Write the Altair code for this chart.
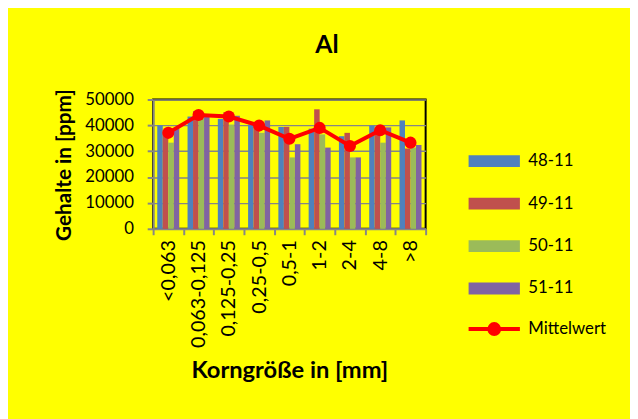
import altair as alt
import pandas as pd

categories = ["<0,063", "0,063-0,125", "0,125-0,25", "0,25-0,5", "0,5-1", "1-2", "2-4", "4-8", ">8"]
series_names = ["48-11", "49-11", "50-11", "51-11"]
s48 = [40000, 43400, 42500, 40300, 39400, 38700, 35800, 39900, 41900]
s49 = [36500, 45500, 45000, 39500, 39400, 46200, 37100, 39000, 31000]
s50 = [33300, 42800, 40300, 37100, 27600, 36500, 27600, 33300, 31400]
s51 = [39000, 43400, 43700, 41900, 32700, 31400, 27600, 39200, 32400]
mittel = [37100, 44000, 43400, 39900, 34800, 39000, 32000, 38100, 33300]
mean_name = "Mittelwert"
bar_colors = ["#4F81BD", "#C0504D", "#9BBB59", "#8064A2"]
y_ticks = [0, 10000, 20000, 30000, 40000, 50000]

rows = []
for name, vals in zip(series_names, [s48, s49, s50, s51]):
    for c, v in zip(categories, vals):
        rows.append({"cat": c, "series": name, "value": v})
bars_df = pd.DataFrame(rows)
mean_df = pd.DataFrame({"cat": categories, "value": mittel, "name": [mean_name] * len(categories)})

FONT = "Lato"
GRAY = "#868686"

x_axis = alt.Axis(
    tickBand="extent", labelAngle=-90, labelFontSize=20, labelFont=FONT,
    labelColor="black", labelPadding=5, labelOverlap=False,
    domainColor=GRAY, domainWidth=2,
    tickColor=GRAY, tickWidth=2, tickSize=6, grid=False,
    title="Korngröße in [mm]", titleFont=FONT, titleFontSize=24,
    titleFontWeight="bold", titleColor="black",
    titleY=144, titleBaseline="middle",
)
x_scale = alt.Scale(paddingInner=0, paddingOuter=0)
y_scale = alt.Scale(domain=[0, 50000], nice=False)
y_axis = alt.Axis(
    values=y_ticks, tickCount=6, format="d", grid=True, gridColor=GRAY, gridWidth=1.5,
    domainColor=GRAY, domainWidth=2, tickColor=GRAY, tickWidth=2, tickSize=6,
    labelFontSize=17, labelFont=FONT, labelColor="black", labelPadding=14,
    labelOverlap=False,
    title="Gehalte in [ppm]", titleFont=FONT, titleFontSize=21,
    titleFontWeight="bold", titleColor="black",
    titleX=-90, titleY=66, titleBaseline="middle", titleAlign="center",
)


def x_enc():
    return alt.X("cat:N", sort=categories, scale=x_scale, axis=x_axis)


def y_enc():
    return alt.Y("value:Q", scale=y_scale, axis=y_axis)


bars = alt.Chart(bars_df).mark_bar(opacity=1).encode(
    x=x_enc(),
    xOffset=alt.XOffset("series:N", sort=series_names,
                        scale=alt.Scale(paddingInner=0, paddingOuter=0.75)),
    y=y_enc(),
    color=alt.Color(
        "series:N",
        scale=alt.Scale(domain=series_names, range=bar_colors),
        legend=alt.Legend(
            title=None, orient="none", legendX=337, legendY=54, padding=0,
            symbolType="M-4.33,-1L4.33,-1L4.33,1L-4.33,1Z",
            symbolSize=144, symbolStrokeWidth=0, symbolOpacity=1,
            labelOffset=26, rowPadding=25, labelFontSize=17, labelFont=FONT,
            labelColor="black",
        ),
    ),
)

line = alt.Chart(mean_df).mark_line(strokeWidth=4).encode(
    x=x_enc(),
    y=y_enc(),
    stroke=alt.Stroke(
        "name:N",
        scale=alt.Scale(domain=[mean_name], range=["#FF0000"]),
        legend=alt.Legend(
            title=None, orient="none", legendX=337, legendY=224, padding=0,
            symbolType="M-4.33,0L4.33,0M0.83,0A0.83,0.83,0,1,1,-0.83,0A0.83,0.83,0,1,1,0.83,0",
            symbolSize=144, symbolStrokeWidth=4, symbolFillColor="#FF0000",
            labelOffset=26, labelFontSize=17, labelFont=FONT, labelColor="black",
        ),
    ),
)

points = alt.Chart(mean_df).mark_circle(size=150, color="#FF0000", opacity=1).encode(
    x=x_enc(),
    y=y_enc(),
)

chart = alt.layer(bars, line, points).properties(
    width=276, height=131,
    autosize=alt.AutoSizeParams(type="none"),
    padding={"left": 147, "top": 90, "right": 207, "bottom": 190},
    background="#FFFF00",
    title=alt.TitleParams("Al", font=FONT, fontSize=25, fontWeight="bold",
                          color="black", frame="group", offset=31, dx=38),
).configure_view(
    fill="#FFFF00", stroke="black", strokeWidth=2,
)

chart.save("out.html", embed_options={"renderer": "svg", "actions": False})
